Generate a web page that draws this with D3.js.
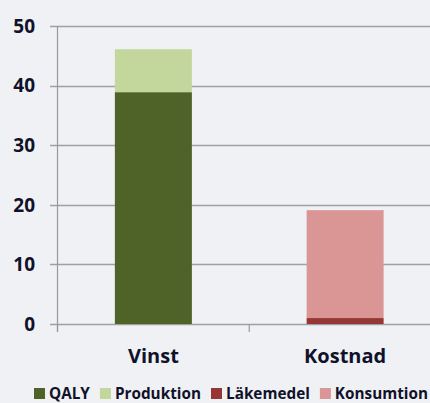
<!DOCTYPE html>
<html><head><meta charset="utf-8">
<script src="https://cdn.jsdelivr.net/npm/d3@7"></script>
<style>
html,body{margin:0;padding:0;background:#f0f1f4;}
svg{display:block;font-family:"Open Sans",sans-serif;font-weight:700;}
</style></head><body>
<svg id="c" width="430" height="403"></svg>
<script>
const categories = ["Vinst", "Kostnad"];
const seriesNames = ["QALY", "Produktion", "Läkemedel", "Konsumtion"];
const qaly       = [38.9, 0];
const produktion = [7.2, 0];
const lakemedel  = [0, 1.0];
const konsumtion = [0, 18.1];
const yTicks = [0, 10, 20, 30, 40, 50];
const colors = ["#4f6228", "#c3d69b", "#953735", "#d99694"];

const svg = d3.select("#c");
const m = {left: 57.5, top: 26, bottom: 324, right: 441};
const y = d3.scaleLinear().domain([0, 50]).range([m.bottom, m.top]);
const ink = "#10112a";

// gridlines
svg.append("g").selectAll("line").data(yTicks).join("line")
  .attr("x1", 50).attr("x2", 430)
  .attr("y1", d => Math.round(y(d)) + 0.5).attr("y2", d => Math.round(y(d)) + 0.5)
  .attr("stroke", "#a0a0a0").attr("stroke-width", 1.5);
// y axis line
svg.append("line").attr("x1", m.left).attr("x2", m.left).attr("y1", y(50)).attr("y2", 332)
  .attr("stroke", "#999").attr("stroke-width", 1.2);

// category separator ticks
const bw = (m.right - m.left) / categories.length;
svg.append("g").selectAll("line").data(d3.range(categories.length)).join("line")
  .attr("x1", i => m.left + i * bw).attr("x2", i => m.left + i * bw)
  .attr("y1", m.bottom).attr("y2", 332)
  .attr("stroke", "#999").attr("stroke-width", 1.2);

// stacked bars
const rows = categories.map((c, i) => ({cat: c, QALY: qaly[i], Produktion: produktion[i], "Läkemedel": lakemedel[i], Konsumtion: konsumtion[i]}));
const stack = d3.stack().keys(seriesNames)(rows);
const xb = d3.scaleBand().domain(categories).range([m.left, m.right]).paddingInner(0).paddingOuter(0);
const barW = 77;
svg.append("g").selectAll("g").data(stack).join("g")
  .attr("fill", (d, i) => colors[i])
  .selectAll("rect").data(d => d.filter(p => p[1] - p[0] > 0)).join("rect")
  .attr("x", d => xb(d.data.cat) + xb.bandwidth() / 2 - barW / 2)
  .attr("width", barW)
  .attr("y", d => y(d[1]))
  .attr("height", d => y(d[0]) - y(d[1]));

// y tick labels
svg.append("g").selectAll("text").data(yTicks).join("text")
  .attr("x", 35).attr("y", d => y(d)).attr("dy", "0.36em")
  .attr("text-anchor", "end").attr("font-size", 19).attr("fill", ink)
  .text(d => d);

// category labels
svg.append("g").selectAll("text").data(categories).join("text")
  .attr("x", d => xb(d) + xb.bandwidth() / 2).attr("y", 363)
  .attr("text-anchor", "middle").attr("font-size", 20).attr("fill", ink)
  .text(d => d);

// legend
const lg = svg.append("g");
let lx = 34;
seriesNames.forEach((n, i) => {
  lg.append("rect").attr("x", lx).attr("y", 388).attr("width", 11).attr("height", 11).attr("fill", colors[i]);
  const t = lg.append("text").attr("x", lx + 15).attr("y", 398.5).attr("font-size", 15.3).attr("fill", ink).text(n);
  lx += 15 + t.node().getComputedTextLength() + 10;
});
</script>
</body></html>
